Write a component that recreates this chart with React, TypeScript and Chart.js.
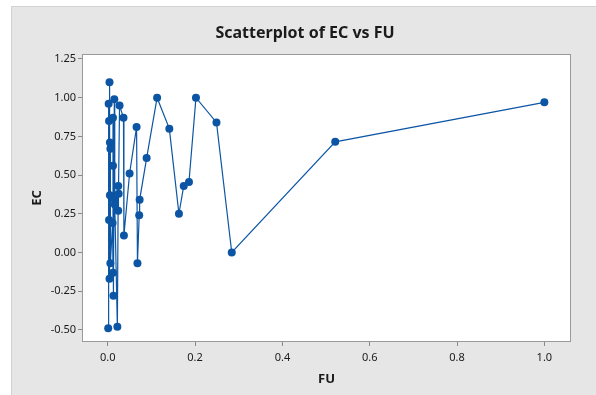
import React, { useEffect, useRef } from "react";
import { Chart, registerables } from "chart.js";

Chart.register(...registerables);

const FU = [
  0.001, 0.002, 0.003, 0.003, 0.004, 0.004, 0.005, 0.005, 0.006, 0.006,
  0.011, 0.012, 0.012, 0.012, 0.013, 0.015, 0.016, 0.016,
  0.022, 0.024, 0.024, 0.025, 0.027,
  0.036, 0.037, 0.05, 0.066, 0.068, 0.072, 0.073, 0.089, 0.113, 0.141,
  0.163, 0.174, 0.186, 0.202, 0.249, 0.284, 0.521, 1.0,
];
const EC = [
  -0.49, 0.96, 0.85, 0.21, 1.1, -0.17, 0.71, 0.37, 0.67, -0.07,
  0.19, 0.87, -0.13, 0.56, -0.28, 0.99, 0.34, 0.31,
  -0.48, 0.43, 0.27, 0.38, 0.95,
  0.87, 0.11, 0.51, 0.81, -0.07, 0.24, 0.34, 0.61, 1.0, 0.8,
  0.25, 0.43, 0.455, 1.0, 0.84, 0.0, 0.715, 0.97,
];
const X_TICKS = [0, 0.2, 0.4, 0.6, 0.8, 1.0];
const Y_TICKS = [-0.5, -0.25, 0, 0.25, 0.5, 0.75, 1.0, 1.25];
const TITLE = "Scatterplot of EC vs FU";
const X_TITLE = "FU";
const Y_TITLE = "EC";

const BLUE = "#0b55a4";
const FONT = "'Noto Sans', 'DejaVu Sans', sans-serif";

const framePlugin = {
  id: "frame",
  beforeDraw(chart: any) {
    const { ctx, chartArea } = chart;
    ctx.save();
    ctx.fillStyle = "#ffffff";
    ctx.fillRect(0, 0, chart.width, chart.height);
    ctx.fillStyle = "#e6e6e6";
    ctx.fillRect(11, 6, chart.width - 11, chart.height - 6);
    ctx.strokeStyle = "#d2d2d2";
    ctx.lineWidth = 1;
    ctx.beginPath();
    ctx.moveTo(11.5, chart.height);
    ctx.lineTo(11.5, 6.5);
    ctx.lineTo(chart.width, 6.5);
    ctx.stroke();
    ctx.fillStyle = "#ffffff";
    ctx.fillRect(chartArea.left, chartArea.top, chartArea.width, chartArea.height);
    ctx.fillStyle = "#1a1a1a";
    ctx.font = `bold 16px ${FONT}`;
    ctx.textAlign = "center";
    ctx.textBaseline = "middle";
    ctx.fillText(TITLE, 305, 33);
    ctx.font = `bold 13px ${FONT}`;
    ctx.fillText(X_TITLE, (chartArea.left + chartArea.right) / 2, 379);
    ctx.translate(37, (chartArea.top + chartArea.bottom) / 2);
    ctx.rotate(-Math.PI / 2);
    ctx.fillText(Y_TITLE, 0, 0);
    ctx.restore();
  },
  afterDraw(chart: any) {
    const { ctx, chartArea } = chart;
    ctx.save();
    ctx.strokeStyle = "#9a9a9a";
    ctx.lineWidth = 1;
    ctx.strokeRect(
      Math.round(chartArea.left) + 0.5,
      Math.round(chartArea.top) + 0.5,
      Math.round(chartArea.width) - 1,
      Math.round(chartArea.height) - 1
    );
    ctx.restore();
  },
};

export default function App() {
  const ref = useRef<HTMLCanvasElement | null>(null);
  useEffect(() => {
    if (!ref.current) return;
    const points = FU.map((x, i) => ({ x, y: EC[i] }));
    const chart = new Chart(ref.current, {
      type: "scatter",
      data: {
        datasets: [
          {
            data: points,
            showLine: true,
            borderColor: BLUE,
            backgroundColor: BLUE,
            borderWidth: 1.2,
            pointRadius: 4,
            pointBorderWidth: 0,
            pointHoverRadius: 4,
          },
        ],
      },
      options: {
        animation: false,
        responsive: false,
        maintainAspectRatio: false,
        events: [],
        layout: { padding: { left: 0, top: 54, right: 25, bottom: 0 } },
        plugins: { legend: { display: false }, title: { display: false }, tooltip: { enabled: false } },
        scales: {
          x: {
            type: "linear",
            min: -0.059,
            max: 1.061,
            afterBuildTicks: (s: any) => {
              s.ticks = X_TICKS.map((v) => ({ value: v }));
            },
            afterFit: (s: any) => {
              s.height = 53;
            },
            border: { display: false },
            grid: { drawOnChartArea: false, drawTicks: true, tickLength: 4, color: "#8a8a8a" },
            ticks: {
              color: "#1a1a1a",
              font: { family: FONT, size: 11 },
              padding: 5,
              maxRotation: 0,
              callback: (v: any) => Number(v).toFixed(1),
            },
            title: { display: false },
          },
          y: {
            type: "linear",
            min: -0.578,
            max: 1.282,
            afterBuildTicks: (s: any) => {
              s.ticks = Y_TICKS.map((v) => ({ value: v }));
            },
            afterFit: (s: any) => {
              s.width = 82;
            },
            border: { display: false },
            grid: { drawOnChartArea: false, drawTicks: true, tickLength: 4, color: "#8a8a8a" },
            ticks: {
              color: "#1a1a1a",
              font: { family: FONT, size: 11 },
              padding: 2,
              callback: (v: any) => Number(v).toFixed(2),
            },
            title: { display: false },
          },
        },
      },
      plugins: [framePlugin],
    });
    return () => chart.destroy();
  }, []);
  return (
    <div style={{ position: "fixed", left: 0, top: 0, width: 596, height: 395 }}>
      <canvas ref={ref} width={596} height={395} style={{ width: 596, height: 395, display: "block" }} />
    </div>
  );
}
